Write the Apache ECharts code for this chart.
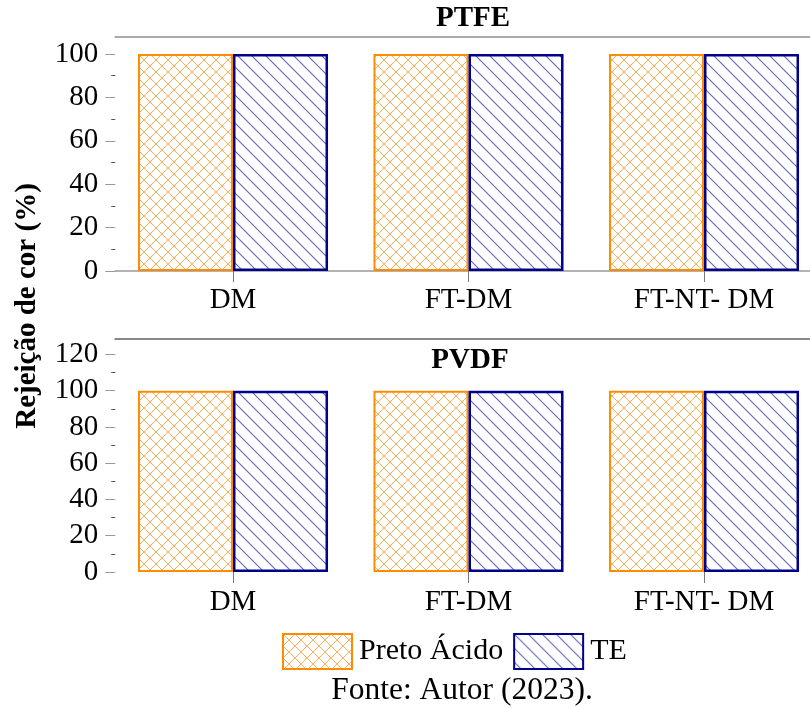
<!DOCTYPE html>
<html>
<head>
<meta charset="utf-8">
<script src="https://cdn.jsdelivr.net/npm/echarts@6/dist/echarts.min.js"></script>
<style>
html,body{margin:0;padding:0;background:#fff;}
#chart{width:810px;height:709px;}
</style>
</head>
<body>
<div id="chart"></div>
<script>
var categories = ['DM', 'FT-DM', 'FT-NT- DM'];
var ptfePreto = [100, 100, 100];
var ptfeTE = [100, 100, 100];
var pvdfPreto = [100, 100, 100];
var pvdfTE = [100, 100, 100];
var ptfeTicks = [0, 20, 40, 60, 80, 100];
var ptfeMinor = [10, 30, 50, 70, 90];
var pvdfTicks = [0, 20, 40, 60, 80, 100, 120];
var pvdfMinor = [10, 30, 50, 70, 90, 110];
var seriesNames = ['Preto Ácido', 'TE'];

var FONT = '"Liberation Serif", "Times New Roman", serif';
var FS = 29;

function crossPattern() {
  var c = document.createElement('canvas');
  c.width = 12; c.height = 12;
  var g = c.getContext('2d');
  g.fillStyle = '#ffffff';
  g.fillRect(0, 0, 12, 12);
  g.strokeStyle = 'rgba(255,140,20,0.7)';
  g.lineWidth = 1;
  g.beginPath();
  g.moveTo(0, 0); g.lineTo(12, 12);
  g.moveTo(12, 0); g.lineTo(0, 12);
  g.stroke();
  return c;
}
function hatchPattern() {
  var s = 14;
  var c = document.createElement('canvas');
  c.width = s; c.height = s;
  var g = c.getContext('2d');
  g.fillStyle = '#ffffff';
  g.fillRect(0, 0, s, s);
  g.strokeStyle = 'rgba(40,40,165,0.72)';
  g.lineWidth = 1.1;
  g.beginPath();
  g.moveTo(-1, -1); g.lineTo(s + 1, s + 1);
  g.moveTo(-1, s - 1); g.lineTo(1, s + 1);
  g.moveTo(s - 1, -1); g.lineTo(s + 1, 1);
  g.stroke();
  return c;
}
var orangeFill = { image: crossPattern(), repeat: 'repeat' };
var blueFill = { image: hatchPattern(), repeat: 'repeat' };

var chart = echarts.init(document.getElementById('chart'), null, { renderer: 'canvas' });

function catAxis(grid, showLine, margin) {
  return {
    type: 'category', gridIndex: grid, data: categories, position: 'bottom',
    axisLine: { show: showLine, onZero: false, lineStyle: { color: '#999', width: 1.5 } },
    axisTick: { show: true, alignWithLabel: true, length: 11, lineStyle: { color: '#777', width: 1 } },
    axisLabel: { color: '#000', fontFamily: FONT, fontSize: FS, margin: margin, hideOverlap: false }
  };
}
function topAxis(grid, color) {
  return {
    type: 'category', gridIndex: grid, data: categories, position: 'top',
    axisLine: { show: true, onZero: false, lineStyle: { color: color, width: 2 } },
    axisTick: { show: false }, axisLabel: { show: false }
  };
}
function majorY(grid, max, ticks) {
  return {
    type: 'value', gridIndex: grid, min: 0, max: max,
    axisLine: { show: false }, splitLine: { show: false },
    axisTick: { show: true, customValues: ticks, length: 10, lineStyle: { color: '#999', width: 1 } },
    axisLabel: { show: true, customValues: ticks, color: '#000', fontFamily: FONT, fontSize: FS, margin: 17 }
  };
}
function minorY(grid, max, ticks) {
  return {
    type: 'value', gridIndex: grid, min: 0, max: max, position: 'left',
    axisLine: { show: false }, splitLine: { show: false },
    axisTick: { show: true, customValues: ticks, length: 4, lineStyle: { color: '#555', width: 1 } },
    axisLabel: { show: false }
  };
}
function bar(name, x, y, data, fill, border, bw) {
  return {
    name: name, type: 'bar', xAxisIndex: x, yAxisIndex: y, data: data,
    barGap: '0%', barCategoryGap: '19.3%',
    itemStyle: { color: fill, borderColor: border, borderWidth: bw },
    emphasis: { disabled: true }
  };
}

var option = {
  animation: false,
  backgroundColor: '#fff',
  grid: [
    { left: 115.25, width: 706.5, top: 37, height: 234, outerBoundsMode: 'none', containLabel: false },
    { left: 115.25, width: 706.5, top: 339, height: 233, outerBoundsMode: 'none', containLabel: false }
  ],
  title: [
    { text: 'PTFE', left: 473, top: 4, padding: 0, textAlign: 'center',
      textStyle: { fontFamily: FONT, fontSize: FS, fontWeight: 'bold', color: '#000' } },
    { text: 'PVDF', left: 470, top: 346, padding: 0, textAlign: 'center',
      textStyle: { fontFamily: FONT, fontSize: FS, fontWeight: 'bold', color: '#000' } },
    { text: 'Fonte: Autor (2023).', left: 462, top: 675, padding: 0, textAlign: 'center',
      textStyle: { fontFamily: FONT, fontSize: 31.5, fontWeight: 'normal', color: '#000' } }
  ],
  legend: {
    data: seriesNames, left: 282, top: 633, padding: 0, itemWidth: 69, itemHeight: 35, itemGap: 10,
    icon: 'rect',
    textStyle: { fontFamily: FONT, fontSize: 30, color: '#000', padding: [0, 0, 0, 2] },
    selectedMode: false
  },
  graphic: [
    { type: 'text', x: 28, y: 306, rotation: Math.PI / 2,
      style: { text: 'Rejeição de cor (%)', font: 'bold 29px ' + FONT, fill: '#000',
        textAlign: 'center', textVerticalAlign: 'middle' } }
  ],
  xAxis: [catAxis(0, true, 15), topAxis(0, '#aaa'), catAxis(1, false, 16), topAxis(1, '#888')],
  yAxis: [majorY(0, 107.8, ptfeTicks), minorY(0, 107.8, ptfeMinor),
          majorY(1, 128.5, pvdfTicks), minorY(1, 128.5, pvdfMinor)],
  series: [
    bar(seriesNames[0], 0, 0, ptfePreto, orangeFill, '#FF8C00', 2),
    bar(seriesNames[1], 0, 0, ptfeTE, blueFill, '#00008B', 2.5),
    bar(seriesNames[0], 2, 2, pvdfPreto, orangeFill, '#FF8C00', 2),
    bar(seriesNames[1], 2, 2, pvdfTE, blueFill, '#00008B', 2.5)
  ]
};
chart.setOption(option);
</script>
</body>
</html>
